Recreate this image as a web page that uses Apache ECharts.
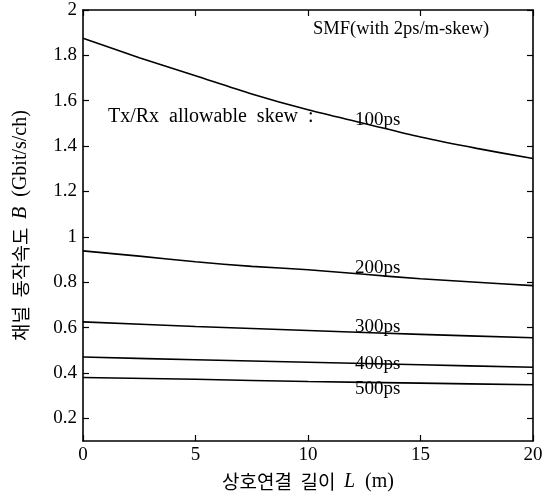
<!DOCTYPE html>
<html>
<head>
<meta charset="utf-8">
<script src="https://cdn.jsdelivr.net/npm/echarts@6/dist/echarts.min.js"></script>
<style>
  html, body { margin: 0; padding: 0; background: #fff; }
  #chart { width: 557px; height: 494px; }
</style>
</head>
<body>
<div id="chart"></div>
<script>
// Interconnect length L (m)
const lengthFine = [0, 2.5, 5, 7.5, 10, 12.5, 15, 17.5, 20];
const lengthCoarse = [0, 5, 10, 15, 20];

// Channel bit rate B (Gbit/s/ch) for each Tx/Rx allowable skew
const skew100 = [1.875, 1.79, 1.71, 1.63, 1.56, 1.50, 1.44, 1.39, 1.345];
const skew200 = [0.938, 0.915, 0.89, 0.87, 0.855, 0.835, 0.815, 0.80, 0.785];
const skew300 = [0.625, 0.605, 0.587, 0.57, 0.555];
const skew400 = [0.47, 0.458, 0.447, 0.436, 0.425];
const skew500 = [0.38, 0.372, 0.362, 0.355, 0.348];

const seriesNames = ['100ps', '200ps', '300ps', '400ps', '500ps'];

// Axis ticks
const xTicks = [0, 5, 10, 15, 20];
const yTicks = [0.2, 0.4, 0.6, 0.8, 1, 1.2, 1.4, 1.6, 1.8, 2];

// Curve labels: [L, B] anchor for each name, plus a small pixel nudge
const labelAnchors = [[13.1, 1.49], [13.1, 0.84], [13.1, 0.58], [13.1, 0.442], [13.1, 0.358]];
const labelOffsets = [[0, -6], [0, -5], [0, -5], [0, 1], [0, 7]];

const serif = '"Liberation Serif", "DejaVu Serif", serif';
const kr = '"Noto Sans CJK KR", sans-serif';

function pairs(xs, ys) { return xs.map((x, i) => [x, ys[i]]); }

const curveData = [
  pairs(lengthFine, skew100),
  pairs(lengthFine, skew200),
  pairs(lengthCoarse, skew300),
  pairs(lengthCoarse, skew400),
  pairs(lengthCoarse, skew500)
];

const chart = echarts.init(document.getElementById('chart'), null, { renderer: 'canvas' });

const axisLineStyle = { color: '#000', width: 1.6 };
const tickStyle = { show: true, inside: true, length: 6, lineStyle: { color: '#000', width: 1.2 } };

const option = {
  animation: false,
  backgroundColor: '#fff',
  grid: { left: 83, right: 24, top: 10, bottom: 53, containLabel: false, outerBoundsMode: 'none' },
  xAxis: [
    {
      type: 'value', min: 0, max: 20, interval: 5, position: 'bottom',
      axisLine: { show: true, onZero: false, lineStyle: axisLineStyle },
      axisTick: tickStyle,
      splitLine: { show: false },
      axisLabel: { color: '#000', fontFamily: serif, fontSize: 19, margin: 5 },
      name: '{k|상호연결  길이  }{i|L}{s|  (m)}',
      nameLocation: 'middle', nameGap: 31,
      nameTextStyle: {
        rich: {
          k: { fontFamily: kr, fontSize: 19, color: '#000' },
          i: { fontFamily: serif, fontStyle: 'italic', fontSize: 20, color: '#000' },
          s: { fontFamily: serif, fontSize: 20, color: '#000' }
        }
      }
    },
    {
      type: 'value', min: 0, max: 20, interval: 5, position: 'top',
      axisLine: { show: true, onZero: false, lineStyle: axisLineStyle },
      axisTick: tickStyle, axisLabel: { show: false }, splitLine: { show: false }
    }
  ],
  yAxis: [
    {
      type: 'value', min: 0.1, max: 2, position: 'left',
      axisLine: { show: true, onZero: false, lineStyle: axisLineStyle },
      axisTick: Object.assign({ customValues: yTicks }, tickStyle),
      splitLine: { show: false },
      axisLabel: {
        customValues: yTicks, color: '#000', fontFamily: serif, fontSize: 19, margin: 6,
        formatter: v => String(Math.round(v * 10) / 10)
      },
      name: '{k|채널  동작속도  }{i|B}{s|  (Gbit/s/ch)}',
      nameLocation: 'middle', nameGap: 52, nameRotate: 90,
      nameTextStyle: {
        rich: {
          k: { fontFamily: kr, fontSize: 19, color: '#000' },
          i: { fontFamily: serif, fontStyle: 'italic', fontSize: 20, color: '#000' },
          s: { fontFamily: serif, fontSize: 20, color: '#000' }
        }
      }
    },
    {
      type: 'value', min: 0.1, max: 2, position: 'right',
      axisLine: { show: true, onZero: false, lineStyle: axisLineStyle },
      axisTick: Object.assign({ customValues: yTicks }, tickStyle),
      axisLabel: { show: false }, splitLine: { show: false }
    }
  ],
  series: curveData.map((data, i) => ({
    name: seriesNames[i],
    type: 'line',
    data: data,
    showSymbol: false,
    symbol: 'none',
    smooth: 0.3,
    lineStyle: { color: '#000', width: 1.6 },
    markPoint: {
      symbol: 'circle', symbolSize: 0,
      label: {
        show: true, formatter: seriesNames[i], color: '#000',
        fontFamily: serif, fontSize: 19, offset: labelOffsets[i]
      },
      data: [{ coord: labelAnchors[i] }]
    }
  })),
  graphic: [
    {
      type: 'text', left: 313, top: 20,
      style: { text: 'SMF(with 2ps/m-skew)', fontFamily: serif, fontSize: 18.5, fill: '#000' }
    },
    {
      type: 'text', left: 108, top: 107,
      style: { text: 'Tx/Rx  allowable  skew  :', fontFamily: serif, fontSize: 20, fill: '#000' }
    }
  ]
};

chart.setOption(option);
</script>
</body>
</html>
